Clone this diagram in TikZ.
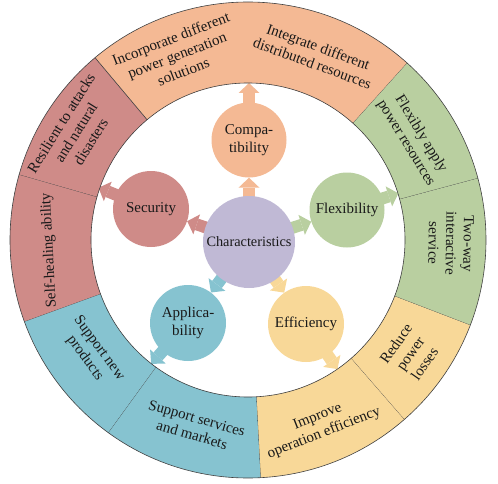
\documentclass[tikz,border=0pt]{standalone}
\usepackage{fontspec}
\setmainfont{Liberation Serif}
\usetikzlibrary{arrows.meta,backgrounds}
\definecolor{corange}{HTML}{F4B994}
\definecolor{cgreen}{HTML}{B9CFA0}
\definecolor{cyellow}{HTML}{F8D898}
\definecolor{cblue}{HTML}{86C3D0}
\definecolor{cred}{HTML}{CF8B88}
\definecolor{cpurple}{HTML}{C0B9D5}
\begin{document}
\begin{tikzpicture}[x=1pt,y=1pt,
  ringline/.style={draw=black!75, line width=0.6pt},
  ringtext/.style={font=\fontsize{15}{17.5}\selectfont, align=center, inner sep=0pt, text=black!90},
  circ/.style={circle, minimum size=76pt, inner sep=0pt, font=\fontsize{15}{18}\selectfont, align=center, fill=#1, text=black!90},
  blockarrow/.style={draw=#1, line width=12pt, shorten <=-5pt, -{Triangle[width=21pt,length=10pt,line width=0pt]}}
]
\useasboundingbox (0,0) rectangle (498,483);

% ring
\begin{scope}[shift={(248,243)}]
\foreach \a/\b/\c in {90/130/corange, 48/90/corange, 15/48/cgreen, -21/15/cgreen, -49/-21/cyellow, -87/-49/cyellow, -126/-87/cblue, -160/-126/cblue, 164/200/cred, 130/164/cred} {
  \fill[\c] (\a:238) arc[start angle=\a, end angle=\b, radius=238] -- (\b:157) arc[start angle=\b, end angle=\a, radius=157] -- cycle;
  \draw[ringline] (\a:157) -- (\a:238);
}
\draw[ringline] (0,0) circle[radius=238];
\draw[ringline] (0,0) circle[radius=157];

\node[ringtext, rotate=21]  (t1)  at (111:198) {Incorporate different\\power generation\\solutions};
\node[ringtext, rotate=-20] (t2)  at (70:197)  {Integrate different\\distributed resources};
\node[ringtext, rotate=-58.5] (t3) at (31.5:194) {Flexibly apply\\power resources};
\node[ringtext, rotate=-91] (t4)  at (-1:203)  {Two-way\\interactive\\service};
\node[ringtext, rotate=55]  (t5)  at (-35:198) {Reduce\\power\\losses};
\node[ringtext, rotate=21.5] (t6) at (-68.5:199) {Improve\\operation efficiency};
\node[ringtext, rotate=-16] (t7)  at (-106:194) {Support services\\and markets};
\node[ringtext, rotate=-54] (t8)  at (-144:193) {Support new\\products};
\node[ringtext, rotate=93]  (t9)  at (183:199) {Self-healing ability};
\node[ringtext, rotate=58]  (t10) at (148:203) {Resilient to attacks\\and natural\\disasters};
\end{scope}

% circles
\node[circ=cpurple, minimum size=92pt, font=\fontsize{14.3}{17}\selectfont] (ch) at (249,241) {Characteristics};
\node[circ=corange, minimum size=75pt] (cp) at (249,343) {Compa-\\tibility};
\node[circ=cred] (se) at (151,274) {Security};
\node[circ=cgreen, minimum size=75pt] (fl) at (347,273) {Flexibility};
\node[circ=cblue] (ap) at (188,160) {Applica-\\bility};
\node[circ=cyellow] (ef) at (306,159) {Efficiency};

% ring end points
\coordinate (ecp) at (249,400);
\coordinate (ese) at (98.5,295.3);
\coordinate (efl) at (398.4,289.7);
\coordinate (eap) at (151.2,119.1);
\coordinate (eef) at (337.5,113.9);

\begin{pgfonlayer}{background}
\draw[blockarrow=corange] (ch) -- (cp);
\draw[blockarrow=cred] (ch) -- (se);
\draw[blockarrow=cgreen] (ch) -- (fl);
\draw[blockarrow=cblue] (ch) -- (ap);
\draw[blockarrow=cyellow] (ch) -- (ef);
\draw[blockarrow=corange] (cp) -- (ecp);
\draw[blockarrow=cred] (se) -- (ese);
\draw[blockarrow=cgreen] (fl) -- (efl);
\draw[blockarrow=cblue] (ap) -- (eap);
\draw[blockarrow=cyellow] (ef) -- (eef);
\end{pgfonlayer}
\end{tikzpicture}
\end{document}
